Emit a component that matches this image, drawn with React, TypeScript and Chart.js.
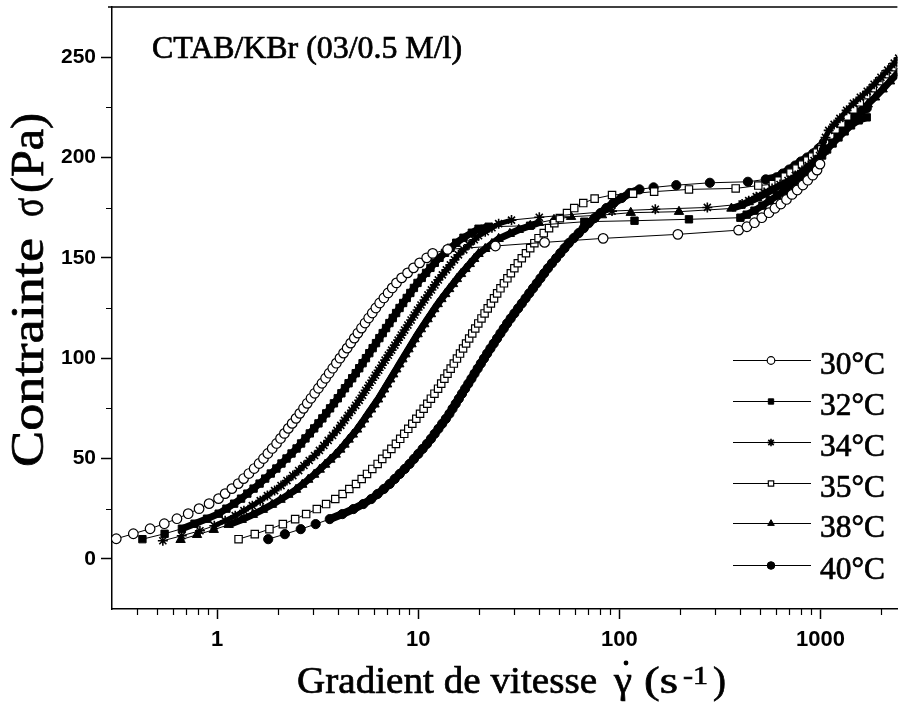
import React, { useEffect, useRef } from 'react';
import { Chart, registerables } from 'chart.js';
import { drawPoint } from 'chart.js/helpers';

Chart.register(...registerables);

// ---------- axis ranges & ticks ----------
const X_MIN = 0.312;
const X_MAX = 2415;
const Y_MIN = -25;
const Y_MAX = 275;
const X_MAJOR = [1, 10, 100, 1000];
const X_MINOR = [0.4, 0.5, 0.6, 0.7, 0.8, 0.9, 2, 3, 4, 5, 6, 7, 8, 9, 20, 30, 40, 50, 60, 70, 80, 90, 200, 300, 400, 500, 600, 700, 800, 900, 2000];
const Y_MAJOR = [0, 50, 100, 150, 200, 250];
const Y_MINOR = [25, 75, 125, 175, 225];

const SERIES_LABELS = ['30°C', '32°C', '34°C', '35°C', '38°C', '40°C'];
const TITLE_TEXT = 'CTAB/KBr (03/0.5 M/l)';
const Y_TITLE = ['Contrainte', 'σ', '(Pa)'];
const X_TITLE = ['Gradient de vitesse', 'γ', '(s', '-1', ')'];

// ---------- data: [shear rate (1/s), stress (Pa)] ----------
const T30: [number, number][] = [
  [0.315, 10], [0.383, 12.5], [0.464, 15], [0.546, 17.5], [0.631, 20], [0.718, 22.5], [0.813, 25], [0.912, 27.5],
  [1.016, 30], [1.096, 32.5], [1.184, 35], [1.274, 37.5], [1.354, 40], [1.439, 42.5], [1.528, 45], [1.617, 47.5],
  [1.7, 50], [1.787, 52.5], [1.879, 55], [1.975, 57.5], [2.067, 60], [2.161, 62.5], [2.259, 65], [2.361, 67.5],
  [2.468, 70], [2.577, 72.5], [2.689, 75], [2.806, 77.5], [2.929, 80], [3.056, 82.5], [3.189, 85], [3.322, 87.5],
  [3.462, 90], [3.607, 92.5], [3.758, 95], [3.916, 97.5], [4.081, 100], [4.252, 102.5], [4.431, 105], [4.616, 107.5],
  [4.81, 110], [5.012, 112.5], [5.222, 115], [5.441, 117.5], [5.67, 120], [5.908, 122.5], [6.155, 125], [6.431, 127.5],
  [6.748, 130], [7.079, 132.5], [7.428, 135], [7.795, 137.5], [8.272, 140], [8.851, 142.5], [9.473, 145], [10.16, 147.5],
  [11.02, 150], [11.8, 152.2], [14.0, 154.2], [24.2, 155.9], [42.5, 157.7], [83.1, 159.7], [195.5, 161.7], [392, 163.8],
  [431, 165.5], [470, 167.5], [511, 170], [555, 172.5], [594, 174.7], [636, 176.8], [678, 179.1], [722, 181.6],
  [767, 183.8], [818, 186.3], [865, 188.7], [916, 191.2], [962, 193.7], [995, 196.7],
];

const T32: [number, number][] = [
  [0.425, 9.8], [0.548, 12.5], [0.668, 15], [0.772, 17.5], [0.891, 20], [1.018, 22.5], [1.112, 25], [1.215, 27.5],
  [1.315, 30], [1.413, 32.5], [1.518, 35], [1.626, 37.5], [1.734, 40], [1.848, 42.5], [1.97, 45], [2.089, 47.5],
  [2.213, 50], [2.344, 52.5], [2.483, 55], [2.615, 57.5], [2.749, 60], [2.89, 62.5], [3.038, 65], [3.19, 67.5],
  [3.336, 70], [3.487, 72.5], [3.644, 75], [3.809, 77.5], [3.981, 80], [4.148, 82.5], [4.322, 85], [4.504, 87.5],
  [4.693, 90], [4.89, 92.5], [5.089, 95], [5.288, 97.5], [5.495, 100], [5.71, 102.5], [5.934, 105], [6.166, 107.5],
  [6.409, 110], [6.659, 112.5], [6.918, 115], [7.189, 117.5], [7.47, 120], [7.762, 122.5], [8.074, 125], [8.414, 127.5],
  [8.767, 130], [9.135, 132.5], [9.519, 135], [9.918, 137.5], [10.41, 140], [10.94, 142.5], [11.5, 145], [12.09, 147.5],
  [12.76, 150], [13.59, 152.5], [14.49, 155], [15.45, 157.5], [16.79, 160], [18.48, 162.5], [19.95, 164.5], [22.39, 165.5],
  [36, 166], [67, 168], [119, 168.5], [222, 169.2], [400, 170],
  [430, 171.5], [470, 173.5], [515, 176], [560, 178.5], [610, 181], [660, 183.5], [715, 186], [775, 189],
  [835, 192], [900, 195], [960, 198], [1020, 201], [1080, 204], [1150, 207], [1230, 210], [1320, 213],
  [1420, 216], [1550, 218.5], [1700, 220],
];

const T34: [number, number][] = [
  [0.537, 9], [0.667, 11.5], [0.821, 14], [0.968, 16.5], [1.096, 19], [1.23, 21.5], [1.359, 24], [1.496, 26.5],
  [1.638, 29], [1.778, 31.5], [1.931, 34], [2.078, 36.5], [2.224, 39], [2.379, 41.5], [2.543, 44], [2.701, 46.5],
  [2.87, 49], [3.05, 51.5], [3.226, 54], [3.392, 56.5], [3.566, 59], [3.749, 61.5], [3.942, 64], [4.12, 66.5],
  [4.299, 69], [4.486, 71.5], [4.681, 74], [4.885, 76.5], [5.087, 79], [5.279, 81.5], [5.479, 84], [5.686, 86.5],
  [5.902, 89], [6.125, 91.5], [6.356, 94], [6.597, 96.5], [6.846, 99], [7.104, 101.5], [7.373, 104], [7.652, 106.5],
  [7.943, 109], [8.243, 111.5], [8.556, 114], [8.88, 116.5], [9.216, 119], [9.564, 121.5], [9.926, 124], [10.32, 126.5],
  [10.74, 129], [11.18, 131.5], [11.63, 134], [12.1, 136.5], [12.59, 139], [13.18, 141.5], [13.8, 144], [14.45, 146.5],
  [15.14, 149], [15.85, 151.5], [16.84, 154], [17.89, 156.5], [19.01, 159], [19.95, 161], [21.54, 163], [23.26, 165],
  [25.12, 167], [29.1, 168.8], [40, 170.2], [92, 173.3], [151, 174.2], [274, 175.1], [408, 176.8],
  [440, 178.5], [480, 180.5], [525, 182.5], [575, 184.5], [630, 186.5], [690, 188.5], [750, 191], [810, 193.5],
  [870, 196], [930, 198.5], [990, 201], [1030, 206], [1060, 210], [1100, 213.5], [1170, 216.5], [1250, 219.5],
  [1350, 223.5], [1460, 227], [1580, 230], [1710, 233], [1850, 236.5], [2000, 240], [2160, 243.5], [2330, 247], [2450, 249.5],
];

const T35: [number, number][] = [
  [1.278, 9.8], [1.539, 12.3], [1.82, 14.8], [2.122, 17.3], [2.443, 19.8], [2.771, 22.3], [3.131, 24.8], [3.482, 27.3],
  [3.867, 29.8], [4.207, 32.3], [4.543, 34.8], [4.905, 37.3], [5.234, 39.8], [5.563, 42.3], [5.908, 44.8], [6.282, 47.3],
  [6.622, 49.8], [6.977, 52.3], [7.352, 54.8], [7.747, 57.3], [8.135, 59.8], [8.519, 62.3], [8.921, 64.8], [9.341, 67.3],
  [9.781, 69.8], [10.21, 72.3], [10.64, 74.8], [11.09, 77.3], [11.56, 79.8], [12.04, 82.3], [12.55, 84.8], [13.01, 87.3],
  [13.49, 89.8], [13.98, 92.3], [14.5, 94.8], [15.03, 97.3], [15.58, 99.8], [16.14, 102.3], [16.71, 104.8], [17.3, 107.3],
  [17.92, 109.8], [18.56, 112.3], [19.21, 114.8], [19.89, 117.3], [20.63, 119.8], [21.38, 122.3], [22.16, 124.8], [22.98, 127.3],
  [23.82, 129.8], [24.69, 132.3], [25.64, 134.8], [26.68, 137.3], [27.76, 139.8], [28.88, 142.3], [30.06, 144.8], [31.28, 147.3],
  [32.73, 149.8], [34.34, 152.3], [36.05, 154.8], [37.8, 157.3], [39.66, 159.8], [42.1, 162.3], [44.72, 164.8], [47.52, 167.3],
  [50.61, 169.8], [54.95, 172.3], [59.68, 174.8], [66.17, 177.3], [75.38, 179.5],
  [92, 181.3], [117, 182], [149, 183], [222, 184.1], [379, 184.6], [491, 186], [580, 186.7],
  [620, 188.5], [665, 190.5], [710, 192.5], [760, 194.5], [810, 196.5], [860, 198.5], [910, 200.5], [960, 202.5],
  [1010, 205], [1060, 208], [1120, 211], [1190, 214], [1270, 217], [1360, 220.5], [1460, 224], [1570, 227.5],
  [1690, 231], [1820, 234.5], [1960, 238], [2110, 241.5], [2280, 245], [2450, 248],
];

const T38: [number, number][] = [
  [0.658, 9.5], [0.794, 12], [0.962, 14.5], [1.141, 17], [1.325, 19.5], [1.506, 22], [1.688, 24.5], [1.874, 27],
  [2.067, 29.5], [2.259, 32], [2.468, 34.5], [2.651, 37], [2.838, 39.5], [3.037, 42], [3.239, 44.5], [3.443, 47],
  [3.657, 49.5], [3.887, 52], [4.097, 54.5], [4.299, 57], [4.51, 59.5], [4.732, 62], [4.965, 64.5], [5.173, 67],
  [5.383, 69.5], [5.601, 72], [5.828, 74.5], [6.064, 77], [6.31, 79.5], [6.534, 82], [6.766, 84.5], [7.005, 87],
  [7.254, 89.5], [7.51, 92], [7.777, 94.5], [8.055, 97], [8.341, 99.5], [8.638, 102], [8.945, 104.5], [9.262, 107],
  [9.59, 109.5], [9.931, 112], [10.31, 114.5], [10.72, 117], [11.13, 119.5], [11.57, 122], [12.02, 124.5], [12.5, 127],
  [13.04, 129.5], [13.63, 132], [14.25, 134.5], [14.9, 137], [15.57, 139.5], [16.33, 142], [17.18, 144.5], [18.05, 147],
  [18.98, 149.5], [19.95, 152], [21.54, 154.5], [23.26, 157], [25.12, 159.5], [28.55, 162], [31.62, 164], [36.07, 166],
  [39.81, 167.5], [47.32, 169], [57.54, 170.5],
  [82, 171.3], [114, 172.5], [198, 173], [361, 174.6],
  [400, 176], [440, 177.8], [485, 179.8], [530, 181.8], [580, 184], [635, 186.3], [695, 188.7], [760, 191.2],
  [830, 193.8], [900, 196.5], [970, 199.3], [1040, 203], [1100, 206.5], [1170, 209.5], [1250, 212.5], [1350, 216],
  [1460, 219.5], [1580, 223], [1720, 226.5], [1870, 230], [2040, 234], [2220, 238], [2420, 242],
];

const T40: [number, number][] = [
  [1.795, 9.8], [2.172, 12.3], [2.604, 14.8], [3.09, 17.3], [3.631, 19.8], [4.194, 22.3], [4.759, 24.8], [5.327, 27.3],
  [5.838, 29.8], [6.274, 32.3], [6.743, 34.8], [7.211, 37.3], [7.638, 39.8], [8.091, 42.3], [8.57, 44.8], [9.057, 47.3],
  [9.522, 49.8], [10.01, 52.3], [10.52, 54.8], [11.06, 57.3], [11.57, 59.8], [12.07, 62.3], [12.6, 64.8], [13.15, 67.3],
  [13.72, 69.8], [14.29, 72.3], [14.81, 74.8], [15.36, 77.3], [15.92, 79.8], [16.51, 82.3], [17.11, 84.8], [17.74, 87.3],
  [18.39, 89.8], [19.05, 92.3], [19.75, 94.8], [20.48, 97.3], [21.23, 99.8], [22.01, 102.3], [22.85, 104.8], [23.74, 107.3],
  [24.66, 109.8], [25.62, 112.3], [26.63, 114.8], [27.67, 117.3], [28.82, 119.8], [30.07, 122.3], [31.38, 124.8], [32.75, 127.3],
  [34.18, 129.8], [35.66, 132.3], [37.22, 134.8], [38.85, 137.3], [40.53, 139.8], [42.29, 142.3], [44.14, 144.8], [46.24, 147.3],
  [48.51, 149.8], [50.89, 152.3], [53.4, 154.8], [56.02, 157.3], [59.29, 159.8], [62.81, 162.3], [66.53, 164.8], [70.47, 167.3],
  [75.36, 169.8], [80.64, 172.3], [86.3, 174.8], [93.54, 177.3], [102.7, 179.8], [112.7, 182.3],
  [126, 184.1], [148, 185.1], [192, 186.2], [282, 187.4], [436, 187.9], [535, 189.1], [605, 190.1],
  [650, 192], [700, 194], [750, 196], [800, 198], [860, 200], [920, 202], [980, 204.5], [1040, 207.5],
  [1100, 210], [1170, 212.5], [1250, 215], [1340, 217.5], [1440, 220], [1560, 222.5], [1700, 224.5],
];

const SERIES = [T30, T32, T34, T35, T38, T40];

// marker look per series: style, fill, radius, border width, dense-band line width
const MARKERS = [
  { style: 'circle', fill: '#ffffff', r: 4.8, bw: 1.2, band: 1 },
  { style: 'rect', fill: '#000000', r: 5.2, bw: 1, band: 7 },
  { style: 'star', fill: '#000000', r: 5, bw: 1.6, band: 5 },
  { style: 'rect', fill: '#ffffff', r: 5.2, bw: 1.2, band: 1 },
  { style: 'triangle', fill: '#000000', r: 5.4, bw: 1, band: 7 },
  { style: 'circle', fill: '#000000', r: 4.6, bw: 1, band: 8 },
];

const SERIF = '"Liberation Serif", "Times New Roman", serif';
const SANS = '"Liberation Sans", Arial, sans-serif';

function fitText(ctx: CanvasRenderingContext2D, text: string, x: number, y: number, font: string, targetW: number) {
  ctx.font = font;
  const w = ctx.measureText(text).width;
  ctx.save();
  ctx.translate(x, y);
  ctx.scale(targetW / w, 1);
  ctx.fillText(text, 0, 0);
  ctx.lineWidth = 0.7;
  ctx.strokeText(text, 0, 0);
  ctx.restore();
}

const decorPlugin = {
  id: 'decor',
  afterDraw(chart: any) {
    const ctx: CanvasRenderingContext2D = chart.ctx;
    const xs = chart.scales.x;
    const ys = chart.scales.y;
    const area = chart.chartArea;
    ctx.save();
    ctx.strokeStyle = '#000';
    ctx.fillStyle = '#000';

    // minor ticks
    ctx.lineWidth = 1.2;
    ctx.beginPath();
    X_MINOR.forEach((v) => {
      const px = Math.round(xs.getPixelForValue(v)) + 0.5;
      ctx.moveTo(px, area.bottom);
      ctx.lineTo(px, area.bottom + 6);
    });
    Y_MINOR.forEach((v) => {
      const py = Math.round(ys.getPixelForValue(v)) + 0.5;
      ctx.moveTo(area.left - 6, py);
      ctx.lineTo(area.left, py);
    });
    ctx.stroke();

    // top frame line
    ctx.lineWidth = 1.5;
    ctx.beginPath();
    ctx.moveTo(area.left - 4, area.top);
    ctx.lineTo(area.right, area.top);
    ctx.stroke();

    // annotation title
    ctx.textBaseline = 'alphabetic';
    ctx.textAlign = 'left';
    fitText(ctx, TITLE_TEXT, 152, 58, `31px ${SERIF}`, 310);

    // y axis title (rotated)
    ctx.save();
    ctx.translate(43, 467);
    ctx.rotate(-Math.PI / 2);
    fitText(ctx, Y_TITLE[0], 0, 0, `47px ${SERIF}`, 229);
    fitText(ctx, Y_TITLE[1], 250, 0, `47px ${SERIF}`, 19);
    fitText(ctx, Y_TITLE[2], 274, 0, `47px ${SERIF}`, 80);
    ctx.restore();

    // x axis title
    fitText(ctx, X_TITLE[0], 297, 693, `38px ${SERIF}`, 300);
    fitText(ctx, X_TITLE[1], 614, 693, `38px ${SERIF}`, 18);
    ctx.beginPath();
    ctx.arc(626, 663, 2.4, 0, Math.PI * 2);
    ctx.fill();
    fitText(ctx, X_TITLE[2], 644, 693, `38px ${SERIF}`, 34);
    fitText(ctx, X_TITLE[3], 683, 684, `26px ${SERIF}`, 25);
    fitText(ctx, X_TITLE[4], 713, 693, `38px ${SERIF}`, 13);

    // legend
    const rows = [360, 401, 442, 483, 523, 565];
    SERIES_LABELS.forEach((label, i) => {
      const y = rows[i];
      ctx.lineWidth = 1;
      ctx.strokeStyle = '#000';
      ctx.beginPath();
      ctx.moveTo(733, y + 0.5);
      ctx.lineTo(811, y + 0.5);
      ctx.stroke();
      const m = MARKERS[i];
      ctx.fillStyle = m.fill;
      ctx.strokeStyle = '#000';
      ctx.lineWidth = m.bw;
      drawPoint(ctx, { pointStyle: m.style as any, rotation: 0, radius: 3.8, borderWidth: m.bw }, 771, y + 0.5);
      ctx.fillStyle = '#000';
      ctx.strokeStyle = '#000';
      fitText(ctx, label, 820, y + 14, `32px ${SERIF}`, 65);
    });
    ctx.restore();
  },
};

export default function App() {
  const ref = useRef<HTMLCanvasElement | null>(null);
  useEffect(() => {
    if (!ref.current) return;
    const datasets = SERIES.map((s, i) => {
      const m = MARKERS[i];
      return {
        label: SERIES_LABELS[i],
        data: s.map(([x, y]) => ({ x, y })),
        showLine: true,
        borderColor: '#000',
        borderWidth: 1,
        pointStyle: m.style,
        pointRadius: m.r,
        pointBackgroundColor: m.fill,
        pointBorderColor: '#000',
        pointBorderWidth: m.bw,
        tension: 0,
        segment: {
          borderWidth: (c: any) => {
            const d = Math.hypot(c.p1.x - c.p0.x, c.p1.y - c.p0.y);
            return d < 14 ? m.band : 1;
          },
        },
      };
    });
    const chart = new Chart(ref.current, {
      type: 'scatter',
      data: { datasets: datasets as any },
      options: {
        responsive: false,
        animation: false,
        devicePixelRatio: 1,
        layout: { padding: { top: 7, right: 0, left: 0, bottom: 0 } },
        plugins: { legend: { display: false }, tooltip: { enabled: false } },
        scales: {
          x: {
            type: 'logarithmic',
            min: X_MIN,
            max: X_MAX,
            afterFit: (s: any) => {
              s.height = 94;
              s.paddingLeft = 0;
              s.paddingRight = 0;
            },
            afterBuildTicks: (s: any) => { s.ticks = X_MAJOR.map((v) => ({ value: v })); },
            border: { display: true, color: '#000', width: 1.5 },
            grid: { display: true, drawOnChartArea: false, drawTicks: true, tickLength: 10, tickColor: '#000', tickWidth: 1.5 },
            ticks: {
              color: '#000',
              font: { family: SANS, weight: 'bold', size: 22 },
              padding: 8,
              autoSkip: false,
              maxRotation: 0,
              minRotation: 0,
              callback: (v: any) => String(v),
            },
          },
          y: {
            type: 'linear',
            min: Y_MIN,
            max: Y_MAX,
            afterFit: (s: any) => {
              s.width = 112;
              s.paddingTop = 0;
              s.paddingBottom = 0;
            },
            afterBuildTicks: (s: any) => { s.ticks = Y_MAJOR.map((v) => ({ value: v })); },
            border: { display: true, color: '#000', width: 1.5 },
            grid: { display: true, drawOnChartArea: false, drawTicks: true, tickLength: 11, tickColor: '#000', tickWidth: 1.5 },
            ticks: {
              color: '#000',
              font: { family: SANS, weight: 'bold', size: 21 },
              padding: 5,
              callback: (v: any) => String(v),
            },
          },
        },
      },
      plugins: [decorPlugin],
    } as any);
    return () => chart.destroy();
  }, []);
  return (
    <div style={{ position: 'fixed', left: 0, top: 0, width: 904, height: 703, background: '#fff' }}>
      <canvas ref={ref} width={904} height={703} style={{ display: 'block', width: 904, height: 703 }} />
    </div>
  );
}
